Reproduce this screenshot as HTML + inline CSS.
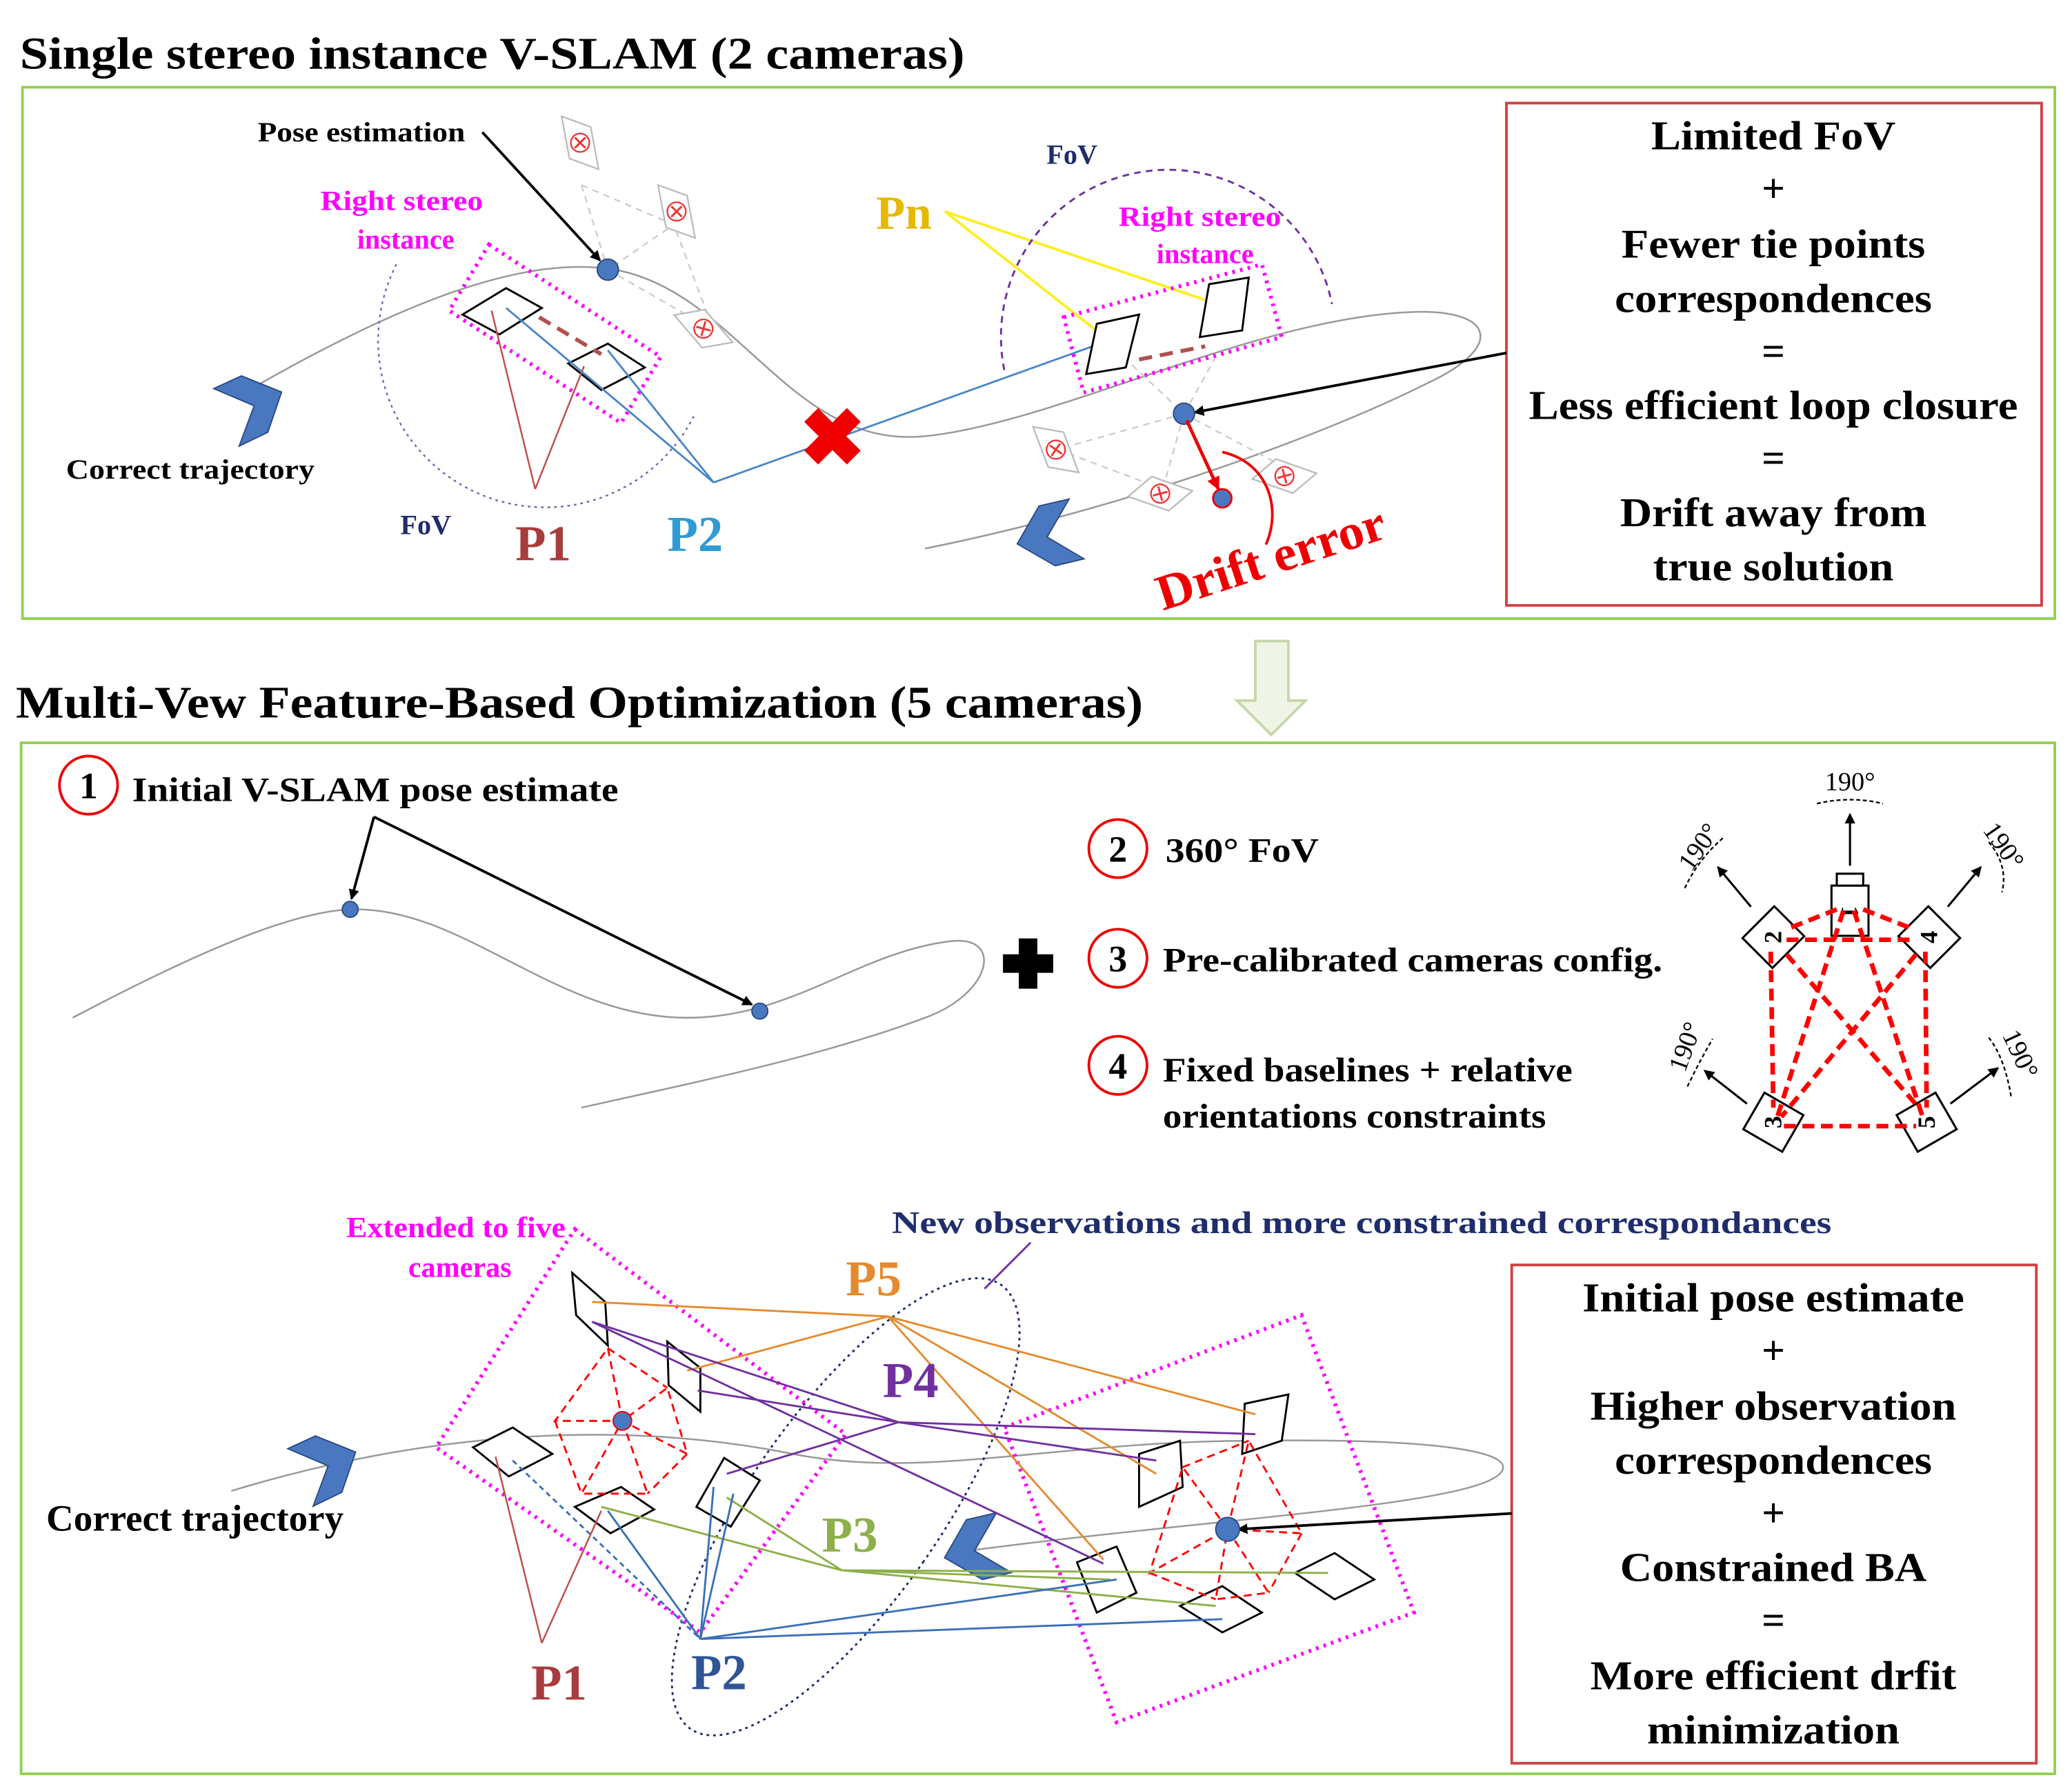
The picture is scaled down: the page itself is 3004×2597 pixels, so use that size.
<!DOCTYPE html>
<html><head><meta charset="utf-8"><style>
html,body{margin:0;padding:0;background:#fff}
svg{display:block}
text{font-family:"Liberation Serif",serif;font-weight:bold}
</style></head><body>
<svg width="3004" height="2597" viewBox="0 0 1568 1355" preserveAspectRatio="none" xmlns="http://www.w3.org/2000/svg">
<defs>
<marker id="ab" markerWidth="8" markerHeight="8" refX="7" refY="4" orient="auto" markerUnits="userSpaceOnUse"><path d="M0,0 L8,4 L0,8 z" fill="#000"/></marker>
<marker id="ar" markerWidth="10" markerHeight="10" refX="9" refY="5" orient="auto" markerUnits="userSpaceOnUse"><path d="M0,0 L10,5 L0,10 z" fill="#e00"/></marker>
<g id="gcam"><polygon points="0,0 22,8 28,40 6,32" fill="#fff" stroke="#bbb" stroke-width="1.2"/><circle cx="14" cy="20" r="7" fill="#fff" stroke="#e33" stroke-width="1.2"/><path d="M10,16 L18,24 M18,16 L10,24" stroke="#e33" stroke-width="1.5"/></g>
<polygon id="chR" points="161.8,294 182.7,284.4 213.1,296.6 202.7,327 181,337.5 192.3,307" fill="#4a78c0" stroke="#2a4a80" stroke-width="1"/>
<polygon id="chL" points="809,377.6 786.3,382.8 769.8,411.5 798.5,428 820.3,422.8 792.4,406.3" fill="#4a78c0" stroke="#2a4a80" stroke-width="1"/>
</defs>

<!-- TOP -->
<text x="15" y="52" font-size="34" textLength="715" lengthAdjust="spacingAndGlyphs">Single stereo instance V-SLAM (2 cameras)</text>
<rect x="17" y="66" width="1538" height="402" fill="none" stroke="#92d050" stroke-width="2"/>
<rect x="1140" y="78" width="405" height="380" fill="none" stroke="#d04040" stroke-width="2"/>
<g font-size="31" text-anchor="middle">
<text x="1342" y="113" textLength="185" lengthAdjust="spacingAndGlyphs">Limited FoV</text><text x="1342" y="153">+</text>
<text x="1342" y="195" textLength="230" lengthAdjust="spacingAndGlyphs">Fewer tie points</text><text x="1342" y="236" textLength="240" lengthAdjust="spacingAndGlyphs">correspondences</text>
<text x="1342" y="276">=</text><text x="1342" y="317" textLength="370" lengthAdjust="spacingAndGlyphs">Less efficient loop closure</text>
<text x="1342" y="357">=</text><text x="1342" y="398" textLength="232" lengthAdjust="spacingAndGlyphs">Drift away from</text><text x="1342" y="439" textLength="182" lengthAdjust="spacingAndGlyphs">true solution</text>
</g>
<path d="M180,300 C300,230 400,190 470,205 C560,225 600,340 700,330 C800,320 950,240 1070,236 C1130,234 1140,262 1080,290 C1000,330 850,385 700,415" fill="none" stroke="#999" stroke-width="1.3"/>
<use href="#chR"/>
<use href="#chL"/>
<text x="50" y="362" font-size="21" textLength="188" lengthAdjust="spacingAndGlyphs">Correct trajectory</text>
<text x="195" y="107" font-size="21" textLength="157" lengthAdjust="spacingAndGlyphs">Pose estimation</text>
<line x1="365" y1="100" x2="454" y2="197" stroke="#000" stroke-width="2" marker-end="url(#ab)"/>
<text x="304" y="159" font-size="21" fill="#f0f" text-anchor="middle" textLength="123" lengthAdjust="spacingAndGlyphs">Right stereo</text>
<text x="307" y="188" font-size="21" fill="#f0f" text-anchor="middle">instance</text>
<path d="M300,200 A125,125 0 1 0 525,315" fill="none" stroke="#7a5ab0" stroke-width="1.2" stroke-dasharray="2,3"/>
<g stroke="#ccc" stroke-dasharray="5,4" stroke-width="1.2" fill="none">
<path d="M440,140 L460,204 L510,170 M460,204 L540,250 M440,140 L510,170 L540,250"/>
<path d="M850,270 L896,313 L920,270 M896,313 L800,340 M896,313 L880,370 M896,313 L975,355 M800,340 L880,370"/>
</g>
<use href="#gcam" x="425" y="88"/><use href="#gcam" x="498" y="140"/>
<use href="#gcam" x="520" y="225" transform="rotate(-30 540 250)"/>
<use href="#gcam" x="785" y="320" transform="rotate(-10 800 340)"/>
<use href="#gcam" x="862" y="350" transform="rotate(-60 880 370)"/>
<use href="#gcam" x="955" y="335" transform="rotate(-60 975 355)"/>
<polygon points="370,185 500,270 470,320 340,235" fill="none" stroke="#f0f" stroke-width="3" stroke-dasharray="2,4"/>
<polygon points="350,238 383,218 410,233 378,253" fill="#fff" stroke="#000" stroke-width="1.5"/>
<polygon points="430,275 460,260 488,278 455,295" fill="#fff" stroke="#000" stroke-width="1.5"/>
<line x1="408" y1="240" x2="455" y2="268" stroke="#b05050" stroke-width="3" stroke-dasharray="10,6"/>
<g stroke="#c0504d" stroke-width="1.3"><line x1="405" y1="370" x2="372" y2="235"/><line x1="405" y1="370" x2="442" y2="277"/></g>
<g stroke="#4a86c8" stroke-width="1.5" fill="none"><line x1="540" y1="365" x2="383" y2="233"/><line x1="540" y1="365" x2="460" y2="265"/><line x1="540" y1="365" x2="838" y2="258"/></g>
<circle cx="460" cy="204" r="8" fill="#4a78c0" stroke="#2a4a80"/>
<text x="630" y="352" font-size="60" fill="#e00" text-anchor="middle" font-family="DejaVu Sans">✖</text>
<text x="303" y="404" font-size="21" fill="#1f2d6b">FoV</text>
<text x="390" y="424" font-size="38" fill="#a83c3c">P1</text>
<text x="505" y="417" font-size="38" fill="#2e9bd6">P2</text>
<text x="663" y="173" font-size="36" fill="#e6b800">Pn</text>
<g stroke="#ffee22" stroke-width="2"><line x1="715" y1="160" x2="836" y2="255"/><line x1="715" y1="160" x2="930" y2="233"/></g>
<text x="792" y="124" font-size="21" fill="#1f2d6b">FoV</text>
<path d="M760,280 A125,125 0 1 1 1008,230" fill="none" stroke="#7030a0" stroke-width="1.5" stroke-dasharray="5,4"/>
<text x="908" y="171" font-size="21" fill="#f0f" text-anchor="middle" textLength="123" lengthAdjust="spacingAndGlyphs">Right stereo</text>
<text x="912" y="199" font-size="21" fill="#f0f" text-anchor="middle">instance</text>
<polygon points="805,240 955,200 970,255 820,297" fill="none" stroke="#f0f" stroke-width="3" stroke-dasharray="2,4"/>
<polygon points="830,245 862,238 852,278 822,283" fill="#fff" stroke="#000" stroke-width="1.5"/>
<polygon points="915,215 945,210 940,250 908,255" fill="#fff" stroke="#000" stroke-width="1.5"/>
<line x1="862" y1="272" x2="912" y2="262" stroke="#b05050" stroke-width="3" stroke-dasharray="10,6"/>
<line x1="1140" y1="267" x2="904" y2="312" stroke="#000" stroke-width="2" marker-end="url(#ab)"/>
<circle cx="896" cy="313" r="8" fill="#4a78c0" stroke="#2a4a80"/>
<line x1="898" y1="318" x2="922" y2="370" stroke="#e00" stroke-width="2.5" marker-end="url(#ar)"/>
<circle cx="925" cy="377" r="7" fill="#4a78c0" stroke="#e00" stroke-width="1.5"/>
<path d="M925,342 C960,350 970,385 958,412" fill="none" stroke="#e00" stroke-width="2"/>
<text x="880" y="462" font-size="38" fill="#e00" transform="rotate(-18 880 462)" textLength="180" lengthAdjust="spacingAndGlyphs">Drift error</text>

<!-- arrow down -->
<polygon points="950,485 975,485 975,530 988,530 962,556 936,530 950,530" fill="#f0f4e6" stroke="#c5d8a8" stroke-width="2"/>

<!-- BOTTOM -->
<text x="12" y="543" font-size="34" textLength="853" lengthAdjust="spacingAndGlyphs">Multi-Vew Feature-Based Optimization (5 cameras)</text>
<rect x="16" y="562" width="1539" height="780" fill="none" stroke="#92d050" stroke-width="2"/>
<g fill="#fff" stroke="#e00" stroke-width="2"><circle cx="67" cy="594" r="22"/><circle cx="846" cy="642" r="22"/><circle cx="846" cy="725" r="22"/><circle cx="846" cy="806" r="22"/></g>
<g font-size="28" text-anchor="middle"><text x="67" y="604">1</text><text x="846" y="652">2</text><text x="846" y="735">3</text><text x="846" y="816">4</text></g>
<g font-size="26"><text x="100" y="606" textLength="368" lengthAdjust="spacingAndGlyphs">Initial V-SLAM pose estimate</text><text x="882" y="652" textLength="116" lengthAdjust="spacingAndGlyphs">360° FoV</text>
<text x="880" y="735" textLength="378" lengthAdjust="spacingAndGlyphs">Pre-calibrated cameras config.</text><text x="880" y="818" textLength="310" lengthAdjust="spacingAndGlyphs">Fixed baselines + relative</text><text x="880" y="853" textLength="290" lengthAdjust="spacingAndGlyphs">orientations constraints</text></g>
<path d="M55,770 C150,720 220,690 265,688 C350,685 420,770 520,770 C600,770 650,720 720,712 C760,708 750,752 700,770 C620,800 520,820 440,838" fill="none" stroke="#999" stroke-width="1.3"/>
<line x1="283" y1="618" x2="266" y2="680" stroke="#000" stroke-width="2" marker-end="url(#ab)"/>
<line x1="283" y1="618" x2="569" y2="760" stroke="#000" stroke-width="2" marker-end="url(#ab)"/>
<circle cx="265" cy="688" r="6" fill="#4a78c0" stroke="#2a4a80"/><circle cx="575" cy="765" r="6" fill="#4a78c0" stroke="#2a4a80"/>
<path d="M771,710 h14 v12 h12 v14 h-12 v12 h-14 v-12 h-12 v-14 h12 z" fill="#000"/>

<!-- camera config -->
<g stroke="#000" stroke-width="1.6" fill="#fff">
<rect x="1386" y="670" width="28" height="38"/><rect x="1390" y="661" width="20" height="9"/>
<rect x="1326" y="692" width="32" height="34" transform="rotate(45 1342 709)"/>
<rect x="1444" y="692" width="32" height="34" transform="rotate(-45 1460 709)"/>
<rect x="1326" y="832" width="32" height="34" transform="rotate(-60 1342 849)"/>
<rect x="1442" y="832" width="32" height="34" transform="rotate(60 1458 849)"/>
</g>
<g font-size="19" font-family="Liberation Sans" text-anchor="middle">
<text x="1400" y="690" transform="rotate(90 1400 690)" dy="6">1</text>
<text x="1342" y="709" transform="rotate(-90 1342 709)" dy="6">2</text>
<text x="1460" y="709" transform="rotate(-90 1460 709)" dy="6">4</text>
<text x="1342" y="849" transform="rotate(-90 1342 849)" dy="6">3</text>
<text x="1458" y="849" transform="rotate(-90 1458 849)" dy="6">5</text>
</g>
<g stroke="#f00" stroke-width="3.5" stroke-dasharray="9,5" fill="none">
<line x1="1352" y1="711" x2="1448" y2="711"/><line x1="1350" y1="852" x2="1450" y2="852"/>
<line x1="1340" y1="720" x2="1342" y2="838"/><line x1="1457" y1="720" x2="1458" y2="838"/>
<line x1="1395" y1="689" x2="1345" y2="845"/><line x1="1403" y1="689" x2="1455" y2="845"/>
<line x1="1352" y1="722" x2="1452" y2="838"/><line x1="1450" y1="722" x2="1348" y2="845"/>
<line x1="1390" y1="688" x2="1352" y2="703"/><line x1="1410" y1="688" x2="1448" y2="703"/>
</g>
<g stroke="#000" stroke-width="1.6"><line x1="1400" y1="655" x2="1400" y2="616" marker-end="url(#ab)"/>
<line x1="1325" y1="686" x2="1300" y2="656" marker-end="url(#ab)"/><line x1="1474" y1="686" x2="1499" y2="656" marker-end="url(#ab)"/>
<line x1="1322" y1="835" x2="1290" y2="810" marker-end="url(#ab)"/><line x1="1476" y1="835" x2="1512" y2="808" marker-end="url(#ab)"/></g>
<g stroke="#000" stroke-width="1.2" stroke-dasharray="3,2" fill="none"><path d="M1375,608 Q1400,602 1425,608"/><path d="M1275,672 Q1285,650 1305,633"/><path d="M1505,637 Q1520,655 1515,675"/><path d="M1277,822 Q1285,805 1296,786"/><path d="M1505,785 Q1517,800 1522,830"/></g>
<g font-size="20">
<text x="1400" y="598" text-anchor="middle" style="font-weight:normal">190°</text>
<text x="1280" y="660" transform="rotate(-55 1280 660)" style="font-weight:normal">190°</text>
<text x="1500" y="628" transform="rotate(55 1500 628)" style="font-weight:normal">190°</text>
<text x="1275" y="812" transform="rotate(-70 1275 812)" style="font-weight:normal">190°</text>
<text x="1515" y="783" transform="rotate(65 1515 783)" style="font-weight:normal">190°</text>
</g>

<!-- lower scene -->
<text x="675" y="933" font-size="24" fill="#1f2d6b" textLength="711" lengthAdjust="spacingAndGlyphs">New observations and more constrained correspondances</text>
<line x1="780" y1="940" x2="745" y2="975" stroke="#7030a0" stroke-width="1.5"/>
<text x="345" y="936" font-size="22" fill="#f0f" text-anchor="middle" textLength="166" lengthAdjust="spacingAndGlyphs">Extended to five</text>
<text x="348" y="966" font-size="22" fill="#f0f" text-anchor="middle">cameras</text>
<rect x="1144" y="957" width="397" height="377" fill="none" stroke="#d04040" stroke-width="2"/>
<g font-size="31" text-anchor="middle">
<text x="1342" y="992" textLength="289" lengthAdjust="spacingAndGlyphs">Initial pose estimate</text><text x="1342" y="1032">+</text>
<text x="1342" y="1074" textLength="277" lengthAdjust="spacingAndGlyphs">Higher observation</text><text x="1342" y="1115" textLength="240" lengthAdjust="spacingAndGlyphs">correspondences</text>
<text x="1342" y="1155">+</text><text x="1342" y="1196" textLength="232" lengthAdjust="spacingAndGlyphs">Constrained BA</text><text x="1342" y="1236">=</text>
<text x="1342" y="1278" textLength="277" lengthAdjust="spacingAndGlyphs">More efficient drfit</text><text x="1342" y="1319" textLength="191" lengthAdjust="spacingAndGlyphs">minimization</text>
</g>
<path d="M175,1128 C300,1090 450,1070 600,1100 C700,1120 800,1090 950,1090 C1100,1088 1150,1100 1135,1115 C1110,1140 900,1150 720,1175" fill="none" stroke="#999" stroke-width="1.3"/>
<use href="#chR" transform="translate(56 802)"/>
<use href="#chL" transform="translate(-55 767)"/>
<text x="35" y="1158" font-size="28" textLength="225" lengthAdjust="spacingAndGlyphs">Correct trajectory</text>
<polygon points="435,930 640,1085 530,1235 330,1095" fill="none" stroke="#f0f" stroke-width="3" stroke-dasharray="2,4"/>
<polygon points="760,1080 985,995 1070,1220 845,1303" fill="none" stroke="#f0f" stroke-width="3" stroke-dasharray="2,4"/>
<ellipse cx="640" cy="1140" rx="72" ry="205" transform="rotate(35 640 1140)" fill="none" stroke="#1f2d6b" stroke-width="1.5" stroke-dasharray="2,3"/>
<g fill="#fff" stroke="#000" stroke-width="1.5">
<polygon points="433,963 458,985 460,1018 436,995"/>
<polygon points="505,1015 530,1035 530,1068 506,1048"/>
<polygon points="358,1095 388,1080 418,1100 385,1117"/>
<polygon points="435,1140 470,1125 495,1142 462,1160"/>
<polygon points="527,1140 548,1103 575,1120 553,1155"/>
<polygon points="942,1062 975,1055 970,1090 940,1100"/>
<polygon points="862,1100 893,1090 895,1125 862,1140"/>
<polygon points="815,1182 845,1170 860,1205 830,1220"/>
<polygon points="893,1215 925,1200 955,1220 925,1235"/>
<polygon points="980,1190 1010,1175 1040,1195 1010,1210"/>
</g>
<g stroke="#f00" stroke-width="1.5" stroke-dasharray="6,4" fill="none">
<path d="M471,1075 L460,1020 L420,1075 L471,1075 L505,1050 L520,1100 L471,1075 L440,1130 M471,1075 L490,1130 L440,1130 M460,1020 L505,1050 M420,1075 L440,1130 M520,1100 L490,1130"/>
<path d="M929,1157 L895,1110 L870,1190 L929,1157 L945,1090 L985,1160 L929,1157 L920,1210 M929,1157 L960,1205 L920,1210 M895,1110 L945,1090 M870,1190 L920,1210 M985,1160 L960,1205"/>
</g>
<g stroke="#e58a2f" stroke-width="1.5" fill="none">
<path d="M448,985 L672,996 L520,1037 M672,996 L950,1070 M672,996 L875,1115 M672,996 L835,1180"/></g>
<g stroke="#7030a0" stroke-width="1.5" fill="none">
<path d="M448,1000 L680,1076 L528,1052 M680,1076 L950,1085 M680,1076 L875,1105 M680,1076 L550,1115 M680,1076 L600,1100"/>
<path d="M448,1000 L835,1183"/></g>
<g stroke="#8db04a" stroke-width="1.5" fill="none">
<path d="M455,1140 L637,1188 L550,1133 M637,1188 L1005,1190 M637,1188 L920,1215 M637,1188 L840,1195"/></g>
<g stroke="#3a70b8" stroke-width="1.5" fill="none">
<path d="M530,1240 L540,1125 M530,1240 L460,1143 M530,1240 L845,1195 M530,1240 L925,1225 M530,1240 L555,1130"/>
<line x1="388" y1="1105" x2="530" y2="1240" stroke-dasharray="4,3"/></g>
<g stroke="#c0504d" stroke-width="1.3"><line x1="410" y1="1243" x2="375" y2="1102"/><line x1="410" y1="1243" x2="455" y2="1143"/></g>
<line x1="1144" y1="1145" x2="937" y2="1157" stroke="#000" stroke-width="2" marker-end="url(#ab)"/>
<circle cx="471" cy="1075" r="7" fill="#4a78c0" stroke="#e00"/>
<circle cx="929" cy="1157" r="9" fill="#4a78c0" stroke="#2a4a80"/>
<text x="640" y="980" font-size="38" fill="#e58a2f">P5</text>
<text x="668" y="1057" font-size="38" fill="#7030a0">P4</text>
<text x="622" y="1174" font-size="38" fill="#8db04a">P3</text>
<text x="523" y="1278" font-size="38" fill="#2f5597">P2</text>
<text x="402" y="1286" font-size="38" fill="#a83c3c">P1</text>
</svg>
</body></html>
